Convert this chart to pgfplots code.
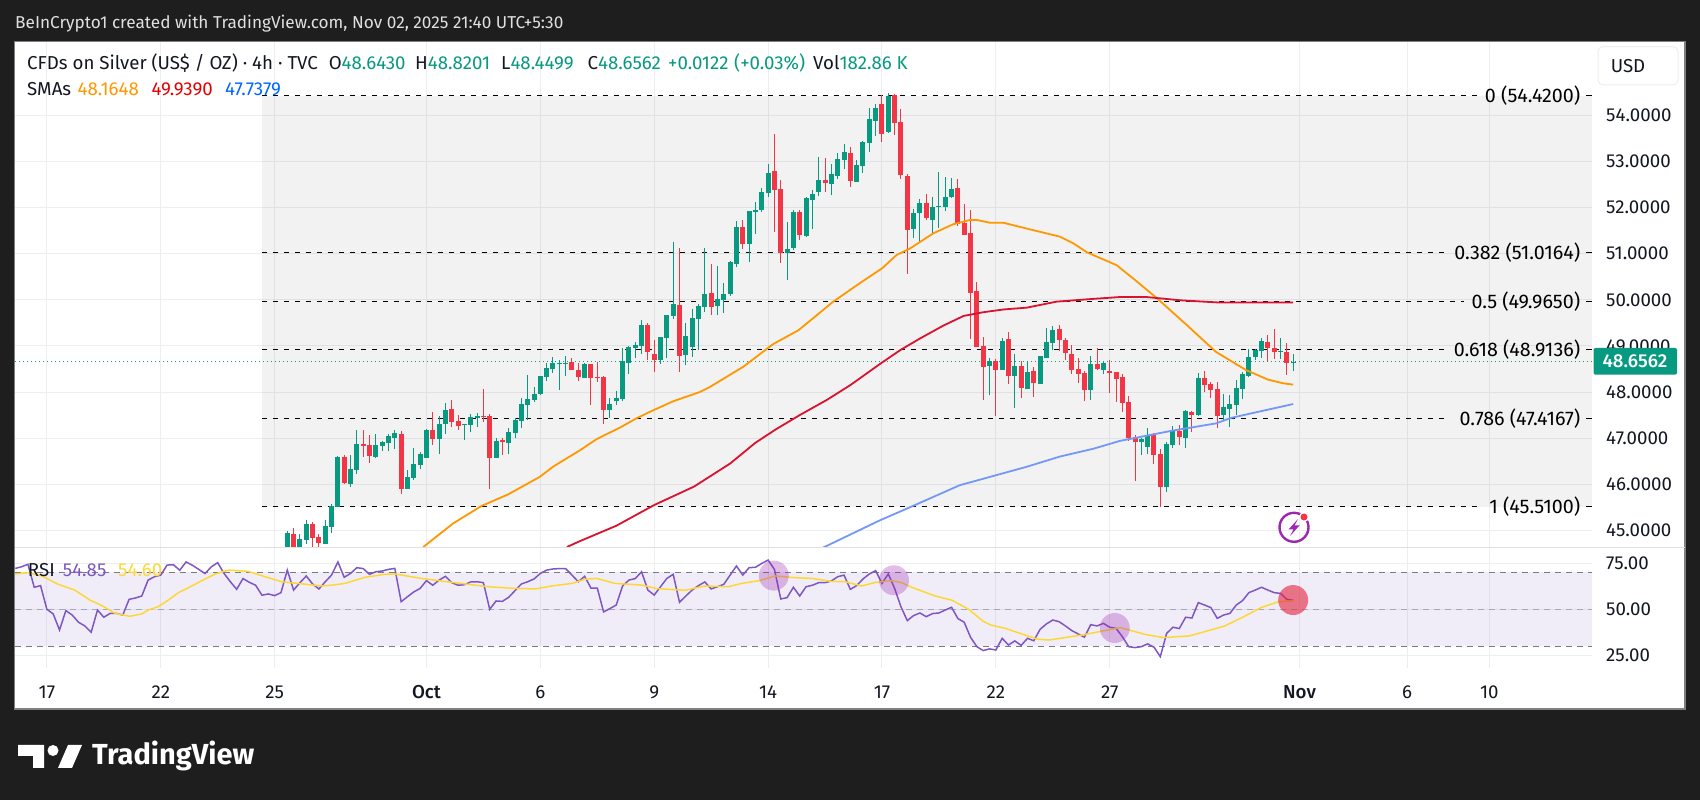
\documentclass[border=0pt]{standalone}
\usepackage{fontspec}
\setmainfont{Fira Sans}
\newfontfamily\medium{Fira Sans Medium}
\usepackage{pgfplots}
\usepackage{pgfplotstable}
\pgfplotsset{compat=1.18}

\definecolor{bg}{HTML}{1E1E1E}
\definecolor{up}{HTML}{089981}
\definecolor{down}{HTML}{F23645}
\definecolor{gridc}{HTML}{EDEEF1}
\definecolor{ink}{HTML}{131722}
\definecolor{smaO}{HTML}{FF9800}
\definecolor{smaR}{HTML}{D9122F}
\definecolor{smaB}{HTML}{7398F8}
\definecolor{rsiL}{HTML}{7E57C2}
\definecolor{rsiY}{HTML}{FDD835}
\definecolor{hl}{HTML}{787B86}
\definecolor{flash}{HTML}{9C27B0}
\definecolor{hot}{HTML}{E3233C}

% i high top bottom low
\pgfplotstableread{
i high top bot low
0 44.99 44.95 44.50 44.45
2 44.92 44.81 44.55 44.50
3 45.22 45.14 44.79 44.70
6 45.22 45.09 44.70 44.70
7 45.58 45.53 45.08 44.95
8 46.61 46.60 45.51 45.50
10 46.63 46.33 46.00 45.95
11 47.17 46.87 46.31 46.22
14 47.09 46.85 46.59 46.57
15 46.94 46.91 46.83 46.72
16 47.10 47.04 46.89 46.72
17 47.17 47.11 47.00 46.76
19 46.31 46.16 45.90 45.90
20 46.78 46.44 46.13 46.09
21 46.70 46.65 46.42 46.33
22 47.20 47.17 46.57 46.57
24 47.48 47.31 46.98 46.65
25 47.76 47.61 47.31 47.09
28 47.31 47.31 47.28 46.96
29 47.52 47.46 47.28 47.13
30 47.54 47.48 47.44 47.24
33 47.00 46.94 46.57 46.57
35 47.22 47.13 46.89 46.65
36 47.44 47.39 47.11 47.00
37 47.87 47.74 47.37 47.22
38 48.37 47.85 47.72 47.39
39 48.11 47.96 47.83 47.78
40 48.35 48.35 47.96 47.93
41 48.63 48.52 48.32 48.24
42 48.76 48.63 48.50 48.41
43 48.69 48.63 48.61 48.04
44 48.78 48.63 48.61 48.35
47 48.64 48.61 48.30 48.30
51 47.87 47.75 47.61 47.44
52 48.02 47.87 47.80 47.72
53 48.95 48.67 47.85 47.80
54 49.00 48.98 48.63 48.39
55 49.08 49.02 48.95 48.74
56 49.56 49.45 49.00 48.82
59 49.19 49.19 48.69 48.61
60 49.67 49.67 49.17 48.74
61 51.25 49.91 49.65 49.58
63 49.50 49.21 48.80 48.58
64 49.80 49.60 48.98 48.76
65 49.91 49.86 49.58 48.91
66 51.12 50.12 49.84 49.73
68 50.73 50.02 49.86 49.67
69 50.36 50.12 49.99 49.71
70 50.84 50.82 50.12 50.08
71 51.71 51.58 50.77 50.71
73 51.92 51.92 51.21 50.82
74 52.12 51.95 51.90 51.43
75 52.42 52.34 51.95 51.90
76 52.94 52.75 52.32 52.23
79 51.69 51.10 51.01 50.43
80 51.95 51.90 51.12 51.08
82 52.23 52.21 51.38 51.36
83 52.38 52.29 52.16 51.53
84 53.10 52.60 52.34 52.25
86 52.94 52.73 52.51 52.27
87 53.18 53.05 52.68 52.62
88 53.38 53.20 53.03 52.84
90 53.03 52.92 52.55 52.55
91 53.44 53.42 52.90 52.75
92 54.16 53.92 53.40 53.20
93 54.25 54.16 53.88 53.55
95 54.48 54.42 53.64 53.62
99 51.97 51.88 51.53 51.34
100 52.18 52.10 51.88 51.25
102 52.23 52.01 51.73 51.45
103 52.77 52.03 52.01 51.56
104 52.66 52.23 52.01 51.92
105 52.64 52.40 52.23 52.21
111 48.74 48.67 48.56 47.93
113 49.17 49.10 48.48 48.48
115 48.82 48.56 48.35 47.65
117 48.67 48.43 48.06 48.06
119 48.78 48.78 48.17 48.17
120 49.39 49.08 48.74 48.74
121 49.43 49.34 49.06 48.91
127 48.78 48.61 48.04 47.83
129 48.65 48.63 48.48 48.39
135 47.00 46.98 46.91 46.63
136 47.22 47.07 46.81 46.65
139 46.91 46.87 45.94 45.83
140 47.26 47.15 46.85 46.78
142 47.61 47.59 47.00 46.78
144 48.41 48.30 47.50 47.48
148 47.96 47.67 47.50 47.39
149 47.93 47.74 47.63 47.24
150 48.26 48.09 47.72 47.50
151 48.43 48.39 48.06 47.85
152 48.93 48.76 48.35 48.32
153 48.93 48.91 48.76 48.69
154 49.17 49.10 48.89 48.74
157 49.17 48.89 48.87 48.72
159 48.82 48.656 48.643 48.45
}\candlesup

\pgfplotstableread{
i high top bot low
1 45.06 44.92 44.60 44.55
4 45.19 45.14 44.84 44.65
5 44.92 44.86 44.72 44.57
9 46.63 46.59 46.03 46.00
12 47.17 46.87 46.84 46.60
13 47.07 46.85 46.61 46.46
18 47.15 47.09 45.90 45.79
23 47.57 47.17 46.98 46.85
26 47.83 47.63 47.35 47.24
27 47.50 47.37 47.26 47.17
31 48.06 47.48 47.46 47.35
32 47.52 47.48 46.57 45.90
34 47.00 46.96 46.91 46.63
45 48.74 48.65 48.48 48.48
46 48.63 48.48 48.32 48.24
48 48.61 48.61 48.30 47.72
49 48.66 48.33 48.31 48.22
50 48.35 48.33 47.61 47.31
57 49.50 49.45 48.87 48.69
58 49.13 48.82 48.69 48.43
62 51.12 49.89 48.78 48.43
67 50.77 50.15 49.84 49.67
72 51.73 51.58 51.21 51.10
77 53.59 52.79 52.38 51.47
78 52.60 52.40 51.01 50.80
81 51.95 51.90 51.40 51.30
85 53.07 52.60 52.53 52.34
89 53.31 53.18 52.58 52.45
94 54.44 54.25 53.59 53.42
96 54.46 54.44 53.83 53.57
97 54.14 53.86 52.71 52.62
98 52.73 52.68 51.51 50.56
101 52.29 52.10 51.77 51.73
106 52.62 52.42 51.64 51.60
107 52.08 51.66 51.40 51.40
108 51.95 51.45 50.15 49.15
109 50.39 50.19 48.98 48.98
110 49.19 49.00 48.54 47.83
112 48.72 48.67 48.48 47.48
114 49.30 49.15 48.35 48.17
116 48.67 48.56 48.09 47.87
118 48.54 48.45 48.19 47.89
122 49.45 49.37 49.13 48.89
123 49.17 49.13 48.85 48.69
124 49.02 48.82 48.48 48.39
125 48.74 48.50 48.39 48.19
126 48.45 48.41 48.04 47.80
128 48.95 48.61 48.50 48.48
130 48.69 48.45 48.41 47.98
131 48.43 48.43 48.28 47.78
132 48.39 48.32 47.76 47.57
133 47.91 47.78 47.00 46.94
134 47.07 47.02 46.91 46.07
137 47.11 47.07 46.63 46.44
138 46.76 46.65 45.94 45.51
141 47.28 47.15 47.02 46.85
143 47.59 47.57 47.50 47.13
145 48.45 48.30 48.15 48.00
146 48.22 48.17 48.04 47.87
147 48.22 48.06 47.48 47.22
155 49.24 49.08 48.95 48.67
156 49.37 48.95 48.87 48.72
158 49.06 48.87 48.63 48.37
}\candlesdown

\pgfplotstableread{
i rsi
-43 72.1
-42 73.0
-41 74.3
-40 61.9
-39 62.8
-38 50.0
-37 47.5
-36 38.8
-35 49.3
-34 46.9
-33 43.0
-32 41.0
-31 37.6
-30 49.6
-29 45.7
-28 47.8
-27 47.8
-26 46.9
-25 55.4
-24 56.1
-23 57.2
-22 65.8
-21 67.6
-20 68.5
-19 73.9
-18 74.1
-17 71.1
-16 75.6
-15 73.8
-14 71.6
-13 69.3
-12 73.0
-11 75.2
-10 69.4
-9 64.9
-8 60.8
-7 66.6
-6 64.6
-5 63.0
-4 57.6
-3 58.3
-2 57.4
-1 59.0
0 71.2
1 60.4
2 64.4
3 68.0
4 63.7
5 61.0
6 64.9
7 68.5
8 75.6
9 67.3
10 69.4
11 72.5
12 72.0
13 68.9
14 70.3
15 70.7
16 71.6
17 72.1
18 54.1
19 56.8
20 59.4
21 61.3
22 65.5
23 63.0
24 65.8
25 67.8
26 64.4
27 63.0
28 63.3
29 64.8
30 64.9
31 64.4
32 50.0
33 54.5
34 54.3
35 56.5
36 60.1
37 63.7
38 64.9
39 66.4
40 69.4
41 71.2
42 71.8
43 72.0
44 72.0
45 68.5
46 64.9
47 67.8
48 61.5
49 61.5
50 48.6
51 50.4
52 52.3
53 62.6
54 65.8
55 66.6
56 70.3
57 60.4
58 57.7
59 62.2
60 66.7
61 68.9
62 53.8
63 57.2
64 60.4
65 62.8
66 64.8
67 61.0
68 62.2
69 63.5
70 68.5
71 73.4
72 68.5
73 72.5
74 72.7
75 74.8
76 76.6
77 71.6
78 55.6
79 56.3
80 61.9
81 57.2
82 62.2
83 63.0
84 64.4
85 64.4
86 65.3
87 67.6
88 68.5
89 60.8
90 62.8
91 66.4
92 69.1
93 70.9
94 64.0
95 69.1
96 61.3
97 51.4
98 43.9
99 46.6
100 48.0
101 46.0
102 47.7
103 48.0
104 49.6
105 51.1
106 45.0
107 43.0
108 34.9
109 29.8
110 27.7
111 28.6
112 28.0
113 34.3
114 30.7
115 32.9
116 30.5
117 34.3
118 33.0
119 39.2
120 42.1
121 44.2
122 43.3
123 41.0
124 38.5
125 36.7
126 34.9
127 41.7
128 41.0
129 42.4
130 40.3
131 39.7
132 35.2
133 29.8
134 29.3
135 29.8
136 31.3
137 29.5
138 24.4
139 37.0
140 40.3
141 39.6
142 45.7
143 45.3
144 53.6
145 52.3
146 50.9
147 45.1
148 46.9
149 47.8
150 52.3
151 54.7
152 59.0
153 60.4
154 61.9
155 60.4
156 59.0
157 58.6
158 55.4
159 54.85
}\rsitable

\newcommand{\lab}{\fontsize{18.7}{21}\selectfont}
\newcommand{\fib}{\fontsize{19.7}{22}\selectfont}
\tikzset{px/.style={x=1pt, y=-1pt, yshift=800pt},
  tx/.style={anchor=base west, inner sep=0pt}}
\pgfplotsset{
  pane/.style={
    scale only axis, width=1577pt, anchor=south west,
    xmin=-43.04, xmax=206.24,
    xtick={-38,-20,-2,22,40,58,76,94,112,130,160,177,190},
    grid=major, grid style={line width=1pt, color=gridc},
    major tick length=0pt, axis line style={draw=none},
    yticklabel pos=right,
    tick label style={font=\lab, text=ink},
    yticklabel style={anchor=west, inner sep=0pt, xshift=14pt,
      /pgf/number format/fixed, /pgf/number format/fixed zerofill,
      /pgf/number format/assume math mode=true},
  },
  wick/.style={draw=none, mark=none, forget plot,
    error bars/.cd, y dir=plus, y explicit, error mark=none,
    error bar style={solid, line width=1pt, draw=#1}},
  body/.style={draw=none, mark=none, forget plot,
    error bars/.cd, y dir=plus, y explicit, error mark=none,
    error bar style={solid, line width=5pt, draw=#1}},
}

\begin{document}
\begin{tikzpicture}[font=\lab]
\fill[bg] (0,0) rectangle (1700pt,800pt);
\useasboundingbox (0,0) rectangle (1700pt,800pt);
\begin{scope}[px]
  \draw[fill=white, draw=black!50, line width=1.3pt] (14.5,41.5) rectangle (1685,709);
\end{scope}

% price pane
\begin{axis}[pane, at={(15pt,253pt)}, height=505pt,
    ymin=44.64, ymax=55.59, ytick={45,46,47,48,49,50,51,52,53,54},
    xticklabels={},
    yticklabel style={/pgf/number format/precision=4}]
  \addplot[draw=none, fill=black, fill opacity=0.05, forget plot]
    coordinates {(-4,45.51) (206.24,45.51) (206.24,54.42) (-4,54.42)} -- cycle;
  \addplot[black, line width=1pt, dash pattern=on 5.5pt off 5.5pt, unbounded coords=jump, forget plot]
    coordinates {(-4,54.42) (188.1,54.42) (nan,nan) (205.3,54.42) (206.24,54.42) (nan,nan)
      (-4,51.0164) (182.9,51.0164) (nan,nan) (205.3,51.0164) (206.24,51.0164) (nan,nan)
      (-4,49.965) (186,49.965) (nan,nan) (205.3,49.965) (206.24,49.965) (nan,nan)
      (-4,48.9136) (183.1,48.9136) (nan,nan) (205.3,48.9136) (206.24,48.9136) (nan,nan)
      (-4,47.4167) (183.1,47.4167) (nan,nan) (205.3,47.4167) (206.24,47.4167) (nan,nan)
      (-4,45.51) (188.5,45.51) (nan,nan) (205.3,45.51) (206.24,45.51)};
  \addplot[up, line width=1pt, dash pattern=on 1.2pt off 2.8pt, forget plot]
    coordinates {(-43.04,48.6562) (206.24,48.6562)};

  \addplot[wick=up] table[x=i, y=low, y error expr=\thisrow{high}-\thisrow{low}] {\candlesup};
  \addplot[body=up] table[x=i, y=bot, y error expr=\thisrow{top}-\thisrow{bot}] {\candlesup};
  \addplot[wick=down] table[x=i, y=low, y error expr=\thisrow{high}-\thisrow{low}] {\candlesdown};
  \addplot[body=down] table[x=i, y=bot, y error expr=\thisrow{top}-\thisrow{bot}] {\candlesdown};

  % moving averages
  \addplot[smaO, line width=1.8pt, forget plot] coordinates {
    (21.5,44.64) (26.2,45.15) (30.7,45.53) (34.9,45.78) (39.9,46.16) (42,46.38) (46.3,46.74)
    (48.9,46.98) (52.6,47.23) (55.2,47.43) (57.3,47.57) (61,47.80) (65.2,48.00) (66.8,48.11)
    (72.1,48.55) (76.8,49.04) (80.8,49.34) (86.3,49.96) (90.5,50.36) (94,50.68) (96.3,50.97)
    (98.4,51.11) (102.1,51.44) (105.3,51.64) (107.9,51.73) (109,51.73) (111.1,51.67) (113.2,51.67)
    (117.9,51.51) (122.1,51.37) (124.3,51.22) (126.4,51.03) (131.1,50.75) (134,50.43) (137.5,50.03)
    (142.2,49.45) (146.8,48.87) (151.5,48.48) (155,48.27) (157.4,48.19) (159,48.16)};
  \addplot[smaR, line width=1.8pt, forget plot] coordinates {
    (44.2,44.64) (46.3,44.77) (52,45.10) (58,45.55) (64.3,45.95) (70,46.45) (74,46.90) (77.1,47.18)
    (81,47.50) (85.3,47.83) (89,48.15) (93.7,48.61) (96.9,48.91) (100,49.16) (103.7,49.44)
    (106.9,49.65) (110,49.73) (113.2,49.79) (116.9,49.83) (121.6,49.96) (127.4,50.02) (131.6,50.06)
    (135.8,50.06) (141.1,49.99) (147.4,49.94) (159,49.94)};
  \addplot[smaB, line width=1.8pt, forget plot] coordinates {
    (84.6,44.62) (93.7,45.22) (98.4,45.50) (106.3,45.98) (107.9,46.04) (116.9,46.38) (122.1,46.60)
    (127.4,46.77) (131.6,46.94) (139.8,47.16) (146.8,47.32) (149.2,47.44) (159,47.74)};

  \node[anchor=east, inner sep=0pt, font=\fib] at (axis cs:204.4,54.42) {0 (54.4200)};
  \node[anchor=east, inner sep=0pt, font=\fib] at (axis cs:204.4,51.0164) {0.382 (51.0164)};
  \node[anchor=east, inner sep=0pt, font=\fib] at (axis cs:204.4,49.965) {0.5 (49.9650)};
  \node[anchor=east, inner sep=0pt, font=\fib] at (axis cs:204.4,48.9136) {0.618 (48.9136)};
  \node[anchor=east, inner sep=0pt, font=\fib] at (axis cs:204.4,47.4167) {0.786 (47.4167)};
  \node[anchor=east, inner sep=0pt, font=\fib] at (axis cs:204.4,45.51) {1 (45.5100)};
\end{axis}

% RSI pane
\begin{axis}[pane, at={(15pt,132pt)}, height=120pt,
    ymin=18.27, ymax=83.14, ytick={25,50,75},
    xticklabels={17,22,25,{\medium Oct},6,9,14,17,22,27,{\medium Nov},6,10},
    xticklabel style={yshift=-14pt},
    yticklabel style={/pgf/number format/precision=2}]
  \addplot[draw=none, fill=rsiL, fill opacity=0.1, forget plot]
    coordinates {(-43.04,30) (206.24,30) (206.24,70) (-43.04,70)} -- cycle;
  \addplot[hl, line width=1pt, dash pattern=on 5.5pt off 5.5pt, unbounded coords=jump, forget plot]
    coordinates {(-43.04,70) (206.24,70) (nan,nan) (-43.04,30) (206.24,30)};
  \addplot[hl, opacity=0.55, line width=1pt, dash pattern=on 5.5pt off 5.5pt, forget plot]
    coordinates {(-43.04,50) (206.24,50)};
  \addplot[rsiL, line width=1.5pt, forget plot] table[x=i, y=rsi] {\rsitable};
  \addplot[rsiY, line width=1.5pt, forget plot] coordinates {
    (-43,69.1) (-41,69.8) (-38.8,68) (-36.2,63.5) (-33.6,60.4) (-31.2,55) (-29.3,52) (-27.2,47.8)
    (-24.9,46.2) (-23,47.5) (-22,49.6) (-20.4,51.4) (-18.8,55) (-17.2,59) (-15.6,61.7) (-13.5,65.5)
    (-11.4,69.1) (-9.3,71.2) (-6.2,70.5) (-3.5,67.6) (-0.9,64.9) (1.7,64) (5.4,62.6) (7,63) (9.1,64)
    (12.3,67.3) (15.4,68.9) (17,69.1) (21.2,66.7) (25.5,64.8) (28.6,63.5) (31.8,62.2) (36,61.3)
    (39.2,61) (41.8,62.6) (45,64) (47,66.2) (48.9,66.7) (51.8,64) (56,63.1) (58.4,61.2) (62.9,60.3)
    (66,62.6) (69.7,62.2) (71.8,64) (74.5,65.4) (77.1,68) (80.3,67.1) (82.9,66.7) (86,65.1) (88.2,64.9)
    (90.8,62.6) (92.9,64.5) (95.5,65.5) (97.1,64.4) (98.7,61.9) (102.4,57.2) (105,55) (107.7,50)
    (110,43.5) (111.3,41.4) (113.5,39.7) (116.6,36.1) (118.7,33.8) (120.4,33.4) (125.6,36.1)
    (131.7,40.1) (135.5,36.5) (138.4,34.7) (142.6,35.6) (148.2,41) (151,45.7) (153.9,50.9)
    (156.7,54.1) (159,54.6)};
  \addplot[only marks, mark=*, mark size=15pt, forget plot,
      mark options={draw opacity=0, fill=flash, fill opacity=0.3}]
    coordinates {(76.9,68.2) (95.9,65.7) (130.8,39.9)};
  \addplot[only marks, mark=*, mark size=15pt, forget plot,
      mark options={draw opacity=0, fill=hot, fill opacity=0.6}]
    coordinates {(159,55)};
\end{axis}

\begin{scope}[px]
  \draw[color=black!12, line width=1.5pt] (15,547.5) -- (1685,547.5);

  % header text
  \node[tx, text=black!12, font=\fontsize{17.2}{20}\selectfont] at (15,29) {BeInCrypto1 created with TradingView.com, Nov 02, 2025 21:40 UTC+5:30};
  \node[tx, text=ink] at (27,70) {CFDs on Silver (US\$ / OZ) · 4h · TVC};
  \node[tx, text=ink] at (328.6,70) {O\textcolor{up}{48.6430}};
  \node[tx, text=ink] at (415,70) {H\textcolor{up}{48.8201}};
  \node[tx, text=ink] at (501,70) {L\textcolor{up}{48.4499}};
  \node[tx, text=ink] at (587.5,70) {C\textcolor{up}{48.6562}};
  \node[tx, text=up] at (668,70) {+0.0122};
  \node[tx, text=up] at (734,70) {(+0.03\%)};
  \node[tx, text=ink] at (813,70) {Vol\textcolor{up}{182.86 K}};
  \node[tx, text=ink] at (27,96) {SMAs};
  \node[tx, text=smaO] at (77.5,96) {48.1648};
  \node[tx, text=red!90!black] at (151.4,96) {49.9390};
  \node[tx, text=blue!60!cyan] at (225,96) {47.7379};
  \node[tx, text=ink] at (27.7,577) {RSI};
  \node[tx, text=rsiL] at (62.7,577) {54.85};
  \node[tx, text=rsiY] at (118,577) {54.60};

  % USD button and last price tag
  \draw[gridc, line width=1pt, rounded corners=5pt] (1598,46.7) rectangle (1678,85);
  \node[text=ink] at (1628,65.7) {USD};
  \fill[up, rounded corners=2pt] (1593.5,348) rectangle (1677,374.7);
  \node[text=white] at (1635,361) {\medium 48.6562};

  % flash icon
  \draw[flash, line width=2.4pt] (1294,527.3) circle (14.5);
  \fill[flash] (1298,519) -- (1288.5,529.5) -- (1293.5,529.5) -- (1290,536) -- (1299.5,525.5) -- (1294.5,525.5) -- cycle;
  \fill[white] (1304,517) circle (5);
  \fill[down] (1304,517) circle (3.5);

  % logo
  \fill[white] (18,745) -- (44,745) -- (44,768) -- (33,768) -- (33,756) -- (18,756) -- cycle;
  \fill[white] (53,750.5) circle (5.5);
  \fill[white] (68,745) -- (82,745) -- (72,768) -- (58,768) -- cycle;
  \node[tx, text=white, font=\fontsize{29}{31}\selectfont\bfseries] at (92,765) {TradingView};
\end{scope}
\end{tikzpicture}
\end{document}
